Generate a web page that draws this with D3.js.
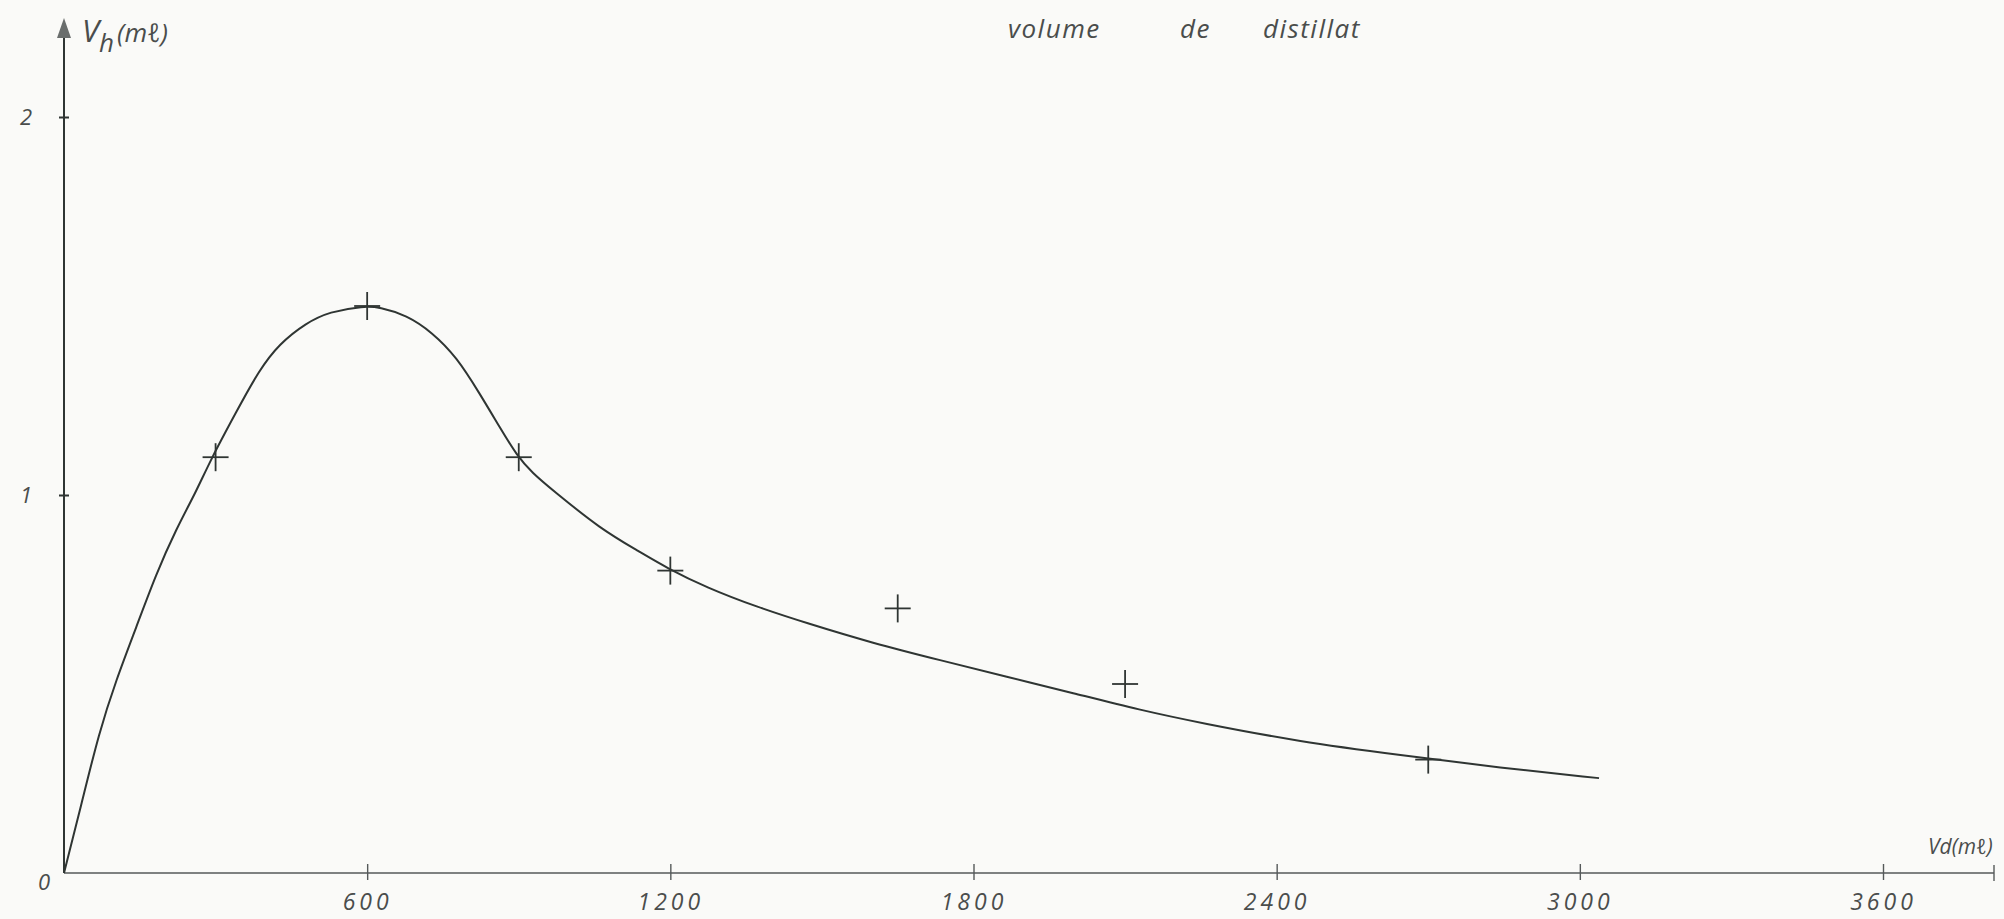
<!DOCTYPE html>
<html>
<head>
<meta charset="utf-8">
<script src="https://cdn.jsdelivr.net/npm/d3@7"></script>
<style>
  html, body { margin: 0; padding: 0; background: #fafaf8; }
  svg { display: block; }
  .hand { font-family: "Open Sans", "DejaVu Sans", sans-serif; font-style: italic; fill: #4a4d4c; }
</style>
</head>
<body>
<div id="chart"></div>
<script>

// measured points (crosses)
var pointX = [300, 600, 900, 1200, 1650, 2100, 2700];
var pointY = [1.10, 1.50, 1.10, 0.80, 0.70, 0.50, 0.30];

// hand drawn fitted curve
var curveX = [0, 36, 69, 103, 143, 182, 222, 262, 289, 341, 386, 426, 479, 525, 594, 624, 678, 729, 777,
              822, 862, 896, 927, 967, 1062, 1139, 1193, 1272, 1371, 1470, 1601, 1734, 1866, 1997, 2130,
              2249, 2447, 2645, 2843, 3038];
var curveY = [0, 0.19, 0.37, 0.51, 0.65, 0.79, 0.91, 1.01, 1.09, 1.22, 1.33, 1.40, 1.455, 1.485, 1.50, 1.497,
              1.476, 1.43, 1.365, 1.27, 1.18, 1.105, 1.058, 1.013, 0.91, 0.85, 0.807, 0.755, 0.704, 0.661,
              0.608, 0.563, 0.519, 0.476, 0.431, 0.397, 0.347, 0.312, 0.278, 0.251];

// axis ticks
var xTicks = [600, 1200, 1800, 2400, 3000, 3600];
var xTickLabels = ["600", "1200", "1800", "2400", "3000", "3600"];
var yTicks = [1, 2];
var yTickLabels = ["1", "2"];

var width = 2004, height = 919;
var ink = "#2f3533";

var svg = d3.select("#chart").append("svg")
    .attr("width", width)
    .attr("height", height);

svg.append("rect").attr("width", width).attr("height", height).attr("fill", "#fafaf8");

// scales
var x = d3.scaleLinear().domain([0, 3600]).range([64, 1883]);
var y = d3.scaleLinear().domain([0, 2]).range([873, 117]);

// x axis line (runs a bit past 3600)
var xEnd = 1994;
svg.append("line")
    .attr("x1", x(0)).attr("x2", xEnd)
    .attr("y1", y(0)).attr("y2", y(0))
    .attr("stroke", "#55595a").attr("stroke-width", 1.6);
svg.append("line")
    .attr("x1", xEnd).attr("x2", xEnd)
    .attr("y1", y(0) - 8).attr("y2", y(0) + 8)
    .attr("stroke", "#55595a").attr("stroke-width", 1.4);

var xAxis = svg.append("g")
    .attr("transform", "translate(0," + y(0) + ")")
    .call(d3.axisBottom(x).tickValues(xTicks).tickSize(8)
        .tickFormat(function(d, i){ return xTickLabels[i]; }));
xAxis.select(".domain").remove();
xAxis.selectAll(".tick line")
    .attr("y1", -9).attr("y2", 7)
    .attr("stroke", "#55595a").attr("stroke-width", 1.4);
xAxis.selectAll(".tick text")
    .attr("class", "hand")
    .attr("y", 21)
    .attr("dy", "0.71em")
    .style("font-size", "23px")
    .style("letter-spacing", "4px")
    .attr("fill", "#4a4d4c");

// y axis line with arrow
svg.append("line")
    .attr("x1", x(0)).attr("x2", x(0))
    .attr("y1", y(0)).attr("y2", 36)
    .attr("stroke", ink).attr("stroke-width", 2);
svg.append("path")
    .attr("d", "M" + x(0) + ",18 L" + (x(0) + 7) + ",38 L" + (x(0) - 7) + ",38 Z")
    .attr("fill", "#6a6e6d");

var yAxis = svg.append("g")
    .attr("transform", "translate(" + x(0) + ",0)")
    .call(d3.axisLeft(y).tickValues(yTicks).tickSize(5)
        .tickFormat(function(d, i){ return yTickLabels[i]; }));
yAxis.select(".domain").remove();
yAxis.selectAll(".tick line")
    .attr("x1", -5).attr("x2", 5)
    .attr("stroke", ink).attr("stroke-width", 2);
yAxis.selectAll(".tick text")
    .attr("class", "hand")
    .attr("x", -32)
    .style("font-size", "22px")
    .attr("fill", "#4a4d4c");

// origin label
svg.append("text")
    .attr("class", "hand")
    .attr("x", x(0) - 26).attr("y", y(0) + 17)
    .style("font-size", "22px")
    .text("0");

// axis titles
var yLabel = svg.append("text")
    .attr("class", "hand")
    .attr("x", 82).attr("y", 42)
    .style("font-size", "31px");
yLabel.append("tspan").text("V");
yLabel.append("tspan").attr("dy", 10).style("font-size", "26px").text("h");
yLabel.append("tspan").attr("dy", -10).attr("dx", 3).style("font-size", "26px").text("(mℓ)");

svg.append("text")
    .attr("class", "hand")
    .attr("x", 1928).attr("y", 854)
    .style("font-size", "21px")
    .text("Vd(mℓ)");

// title
var title = svg.append("text")
    .attr("class", "hand")
    .attr("y", 38)
    .style("font-size", "26px")
    .style("letter-spacing", "1.5px");
title.append("tspan").attr("x", 1008).text("volume");
title.append("tspan").attr("x", 1180).text("de");
title.append("tspan").attr("x", 1263).text("distillat");

// fitted curve
var curveData = curveX.map(function(d, i){ return [d, curveY[i]]; });
var line = d3.line()
    .x(function(d){ return x(d[0]); })
    .y(function(d){ return y(d[1]); })
    .curve(d3.curveBasis);

svg.append("path")
    .datum(curveData)
    .attr("d", line)
    .attr("fill", "none")
    .attr("stroke", ink)
    .attr("stroke-width", 2);

// crosses for the measured points
var pts = pointX.map(function(d, i){ return [d, pointY[i]]; });
var cross = svg.selectAll(".cross")
    .data(pts)
    .enter()
    .append("g")
    .attr("class", "cross")
    .attr("transform", function(d){ return "translate(" + x(d[0]) + "," + y(d[1]) + ")"; });
cross.append("line")
    .attr("x1", -13).attr("x2", 13).attr("y1", 0).attr("y2", 0)
    .attr("stroke", ink).attr("stroke-width", 1.8);
cross.append("line")
    .attr("x1", 0).attr("x2", 0).attr("y1", -14).attr("y2", 14)
    .attr("stroke", ink).attr("stroke-width", 1.8);

</script>
</body>
</html>
